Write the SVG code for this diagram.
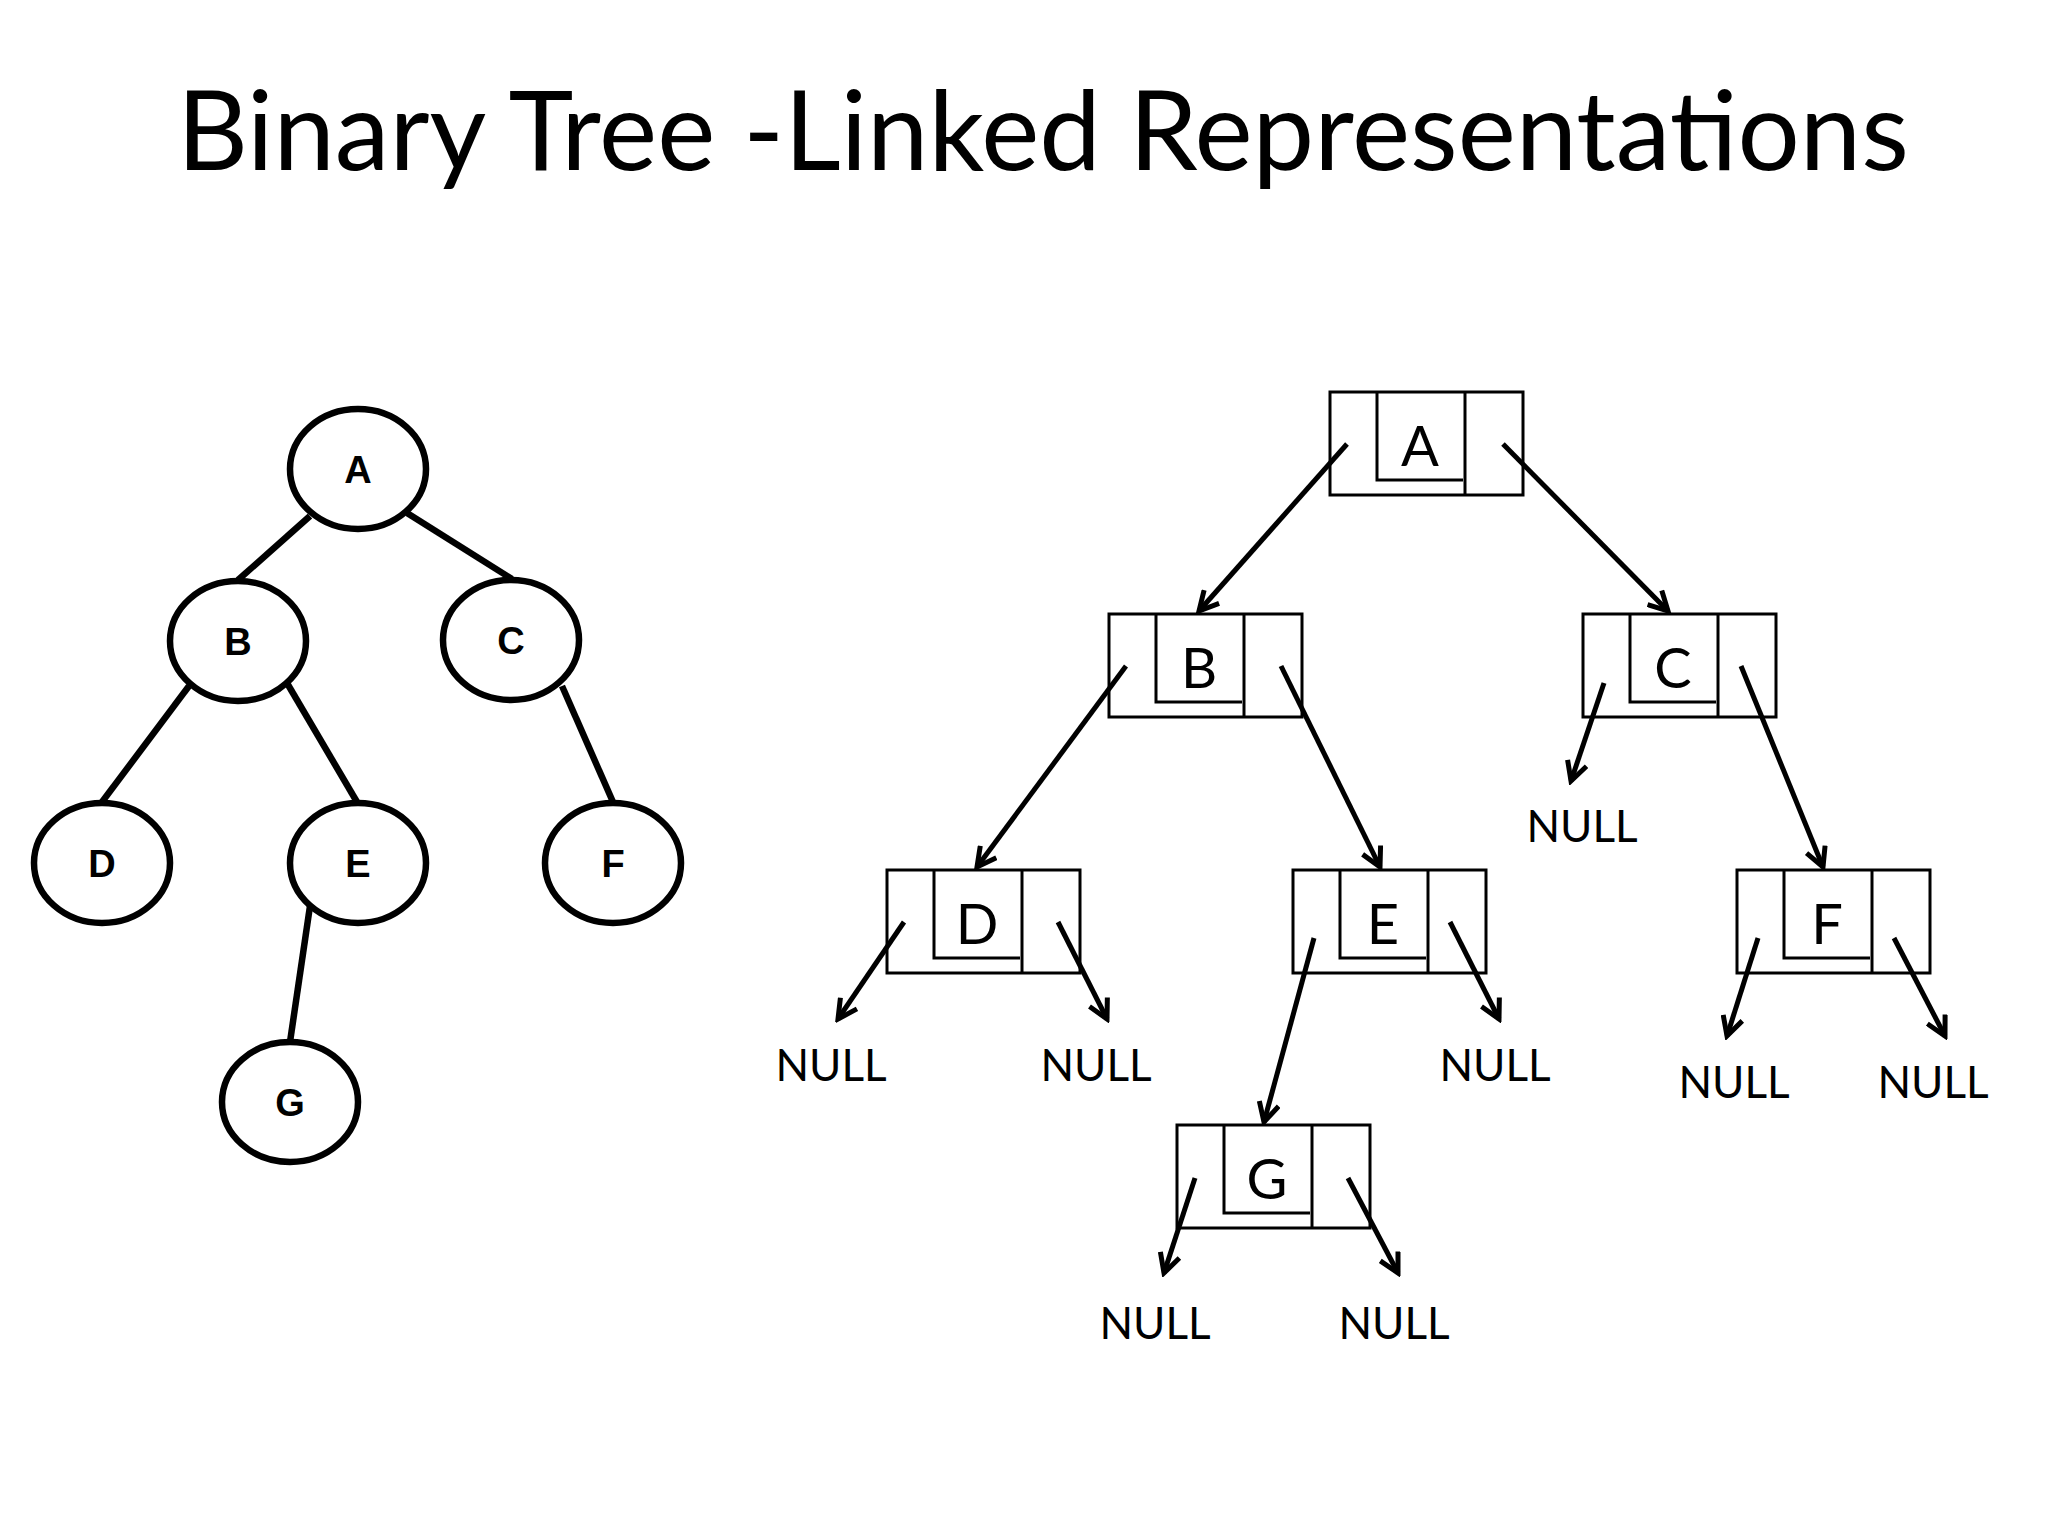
<svg xmlns="http://www.w3.org/2000/svg" width="2048" height="1536" viewBox="0 0 2048 1536">
<style>
.t{font-family:Lato,"Open Sans",sans-serif;fill:#000}
.e{fill:#fff;stroke:#000;stroke-width:6.5}
.el{font-family:"Liberation Sans",Arial,sans-serif;font-weight:bold;font-size:38px;text-anchor:middle}
.tl{stroke:#000;stroke-width:6.5}
.bx{fill:none;stroke:#000;stroke-width:3}
.bl{font-family:Lato,sans-serif;font-size:56px;text-anchor:middle}
.nl{font-family:Lato,sans-serif;font-size:44px;text-anchor:middle}
.ar{stroke:#000;stroke-width:5;fill:none;marker-end:url(#ah)}
</style>
<defs>
<marker id="ah" markerUnits="userSpaceOnUse" viewBox="-22 -12 26 24" refX="0" refY="0" markerWidth="26" markerHeight="24" orient="auto">
<path d="M-19,-10 L0,0 L-19,10" fill="none" stroke="#000" stroke-width="5"/>
</marker>
</defs>
<rect width="2048" height="1536" fill="#fff"/>
<text class="t" x="1043" y="170" font-size="110" text-anchor="middle">Binary Tree -Linked Representations</text>
<g id="tree-edges">
<line class="tl" x1="310" y1="516" x2="238" y2="580"/>
<line class="tl" x1="407" y1="513" x2="512" y2="579"/>
<line class="tl" x1="189" y1="686" x2="102" y2="802"/>
<line class="tl" x1="287" y1="683" x2="357" y2="802"/>
<line class="tl" x1="562" y1="686" x2="613" y2="802"/>
<line class="tl" x1="310" y1="906" x2="290" y2="1042"/>
</g>
<g id="tA"><ellipse class="e" cx="358" cy="469" rx="68" ry="60"/><text class="el" x="358" y="483">A</text></g>
<g id="tB"><ellipse class="e" cx="238" cy="641" rx="68" ry="60"/><text class="el" x="238" y="655">B</text></g>
<g id="tC"><ellipse class="e" cx="511" cy="640" rx="68" ry="60"/><text class="el" x="511" y="654">C</text></g>
<g id="tD"><ellipse class="e" cx="102" cy="863" rx="68" ry="60"/><text class="el" x="102" y="877">D</text></g>
<g id="tE"><ellipse class="e" cx="358" cy="863" rx="68" ry="60"/><text class="el" x="358" y="877">E</text></g>
<g id="tF"><ellipse class="e" cx="613" cy="863" rx="68" ry="60"/><text class="el" x="613" y="877">F</text></g>
<g id="tG"><ellipse class="e" cx="290" cy="1102" rx="68" ry="60"/><text class="el" x="290" y="1116">G</text></g>

<defs>
<g id="box">
<rect class="bx" x="0" y="0" width="193" height="103"/>
<polyline class="bx" points="47,0 47,88 133,88"/>
<line class="bx" x1="135" y1="0" x2="135" y2="103"/>
</g>
</defs>
<g id="nA"><use href="#box" x="1330" y="392"/><text class="bl" x="1420" y="466">A</text></g>
<g id="nB"><use href="#box" x="1109" y="614"/><text class="bl" x="1199" y="688">B</text></g>
<g id="nC"><use href="#box" x="1583" y="614"/><text class="bl" x="1673" y="688">C</text></g>
<g id="nD"><use href="#box" x="887" y="870"/><text class="bl" x="977" y="944">D</text></g>
<g id="nE"><use href="#box" x="1293" y="870"/><text class="bl" x="1383" y="944">E</text></g>
<g id="nF"><use href="#box" x="1737" y="870"/><text class="bl" x="1827" y="944">F</text></g>
<g id="nG"><use href="#box" x="1177" y="1125"/><text class="bl" x="1267" y="1199">G</text></g>

<g id="connectors">
<line class="ar" x1="1347" y1="444" x2="1199" y2="611"/>
<line class="ar" x1="1503" y1="444" x2="1668" y2="611"/>
<line class="ar" x1="1126" y1="666" x2="977" y2="867"/>
<line class="ar" x1="1281" y1="666" x2="1380" y2="867"/>
<line class="ar" x1="1604" y1="683" x2="1571" y2="781"/>
<line class="ar" x1="1741" y1="666" x2="1823" y2="867"/>
<line class="ar" x1="904" y1="922" x2="838" y2="1019"/>
<line class="ar" x1="1058" y1="922" x2="1107" y2="1019"/>
<line class="ar" x1="1314" y1="938" x2="1264" y2="1122"/>
<line class="ar" x1="1450" y1="922" x2="1499" y2="1019"/>
<line class="ar" x1="1758" y1="938" x2="1727" y2="1036"/>
<line class="ar" x1="1894" y1="938" x2="1945" y2="1036"/>
<line class="ar" x1="1195" y1="1178" x2="1164" y2="1273"/>
<line class="ar" x1="1348" y1="1178" x2="1398" y2="1273"/>
</g>
<g id="nulls">
<text class="nl" x="1582" y="842">NULL</text>
<text class="nl" x="831" y="1081">NULL</text>
<text class="nl" x="1096" y="1081">NULL</text>
<text class="nl" x="1495" y="1081">NULL</text>
<text class="nl" x="1734" y="1098">NULL</text>
<text class="nl" x="1933" y="1098">NULL</text>
<text class="nl" x="1155" y="1339">NULL</text>
<text class="nl" x="1394" y="1339">NULL</text>
</g>
</svg>
